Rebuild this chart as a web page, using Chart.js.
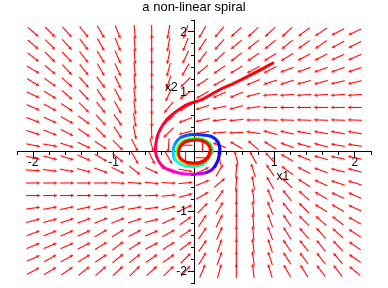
<!DOCTYPE html>
<html>
<head>
<meta charset="utf-8">
<script src="https://cdn.jsdelivr.net/npm/chart.js@4.4.1/dist/chart.umd.min.js"></script>
<style>
  html, body { margin: 0; padding: 0; background: #fff; }
  #wrap { width: 388px; height: 288px; }
</style>
</head>
<body>
<div id="wrap"><canvas id="chart" width="388" height="288"></canvas></div>
<script>
// direction field grid (20 x 20)
var gridX1 = [-2, -1.789, -1.579, -1.368, -1.158, -0.947, -0.737, -0.526, -0.316, -0.105,
              0.105, 0.316, 0.526, 0.737, 0.947, 1.158, 1.368, 1.579, 1.789, 2];
var gridX2 = [2, 1.789, 1.579, 1.368, 1.158, 0.947, 0.737, 0.526, 0.316, 0.105,
              -0.105, -0.316, -0.526, -0.737, -0.947, -1.158, -1.368, -1.579, -1.789, -2];

// arrow heading as seen on screen, degrees anticlockwise from +x1; one row per gridX2 value
var fieldAngle = [
  [-41, -45, -48, -52, -59, -68, -85, -90, -100, -110, -120, -130, -137, -137, -137, -137, -143, -146, -153, -155],
  [-41, -45, -48, -53, -61, -68, -85, -90, -100, -112, -123, -132, -140, -140, -141, -141, -145, -145, -152, -152],
  [-37, -45, -47, -52, -59, -66, -85, -90, -102, -115, -127, -137, -142, -146, -148, -148, -152, -152, -156, -156],
  [-30, -40, -47, -52, -60, -66, -84, -90, -105, -120, -140, -145, -148, -152, -153, -159, -160, -160, -160, -161],
  [-31, -36, -42, -49, -54, -66, -84, -90, -110, -135, -146, -150, -152, -157, -162, -162, -165, -165, -167, -167],
  [-25, -32, -41, -47, -56, -63, -83, -90, -115, -145, -150, -157, -157, -165, -176, -176, -176, -176, -176, -176],
  [-23, -29, -34, -45, -52, -61, -82, -90, -130, -150, -162, -168, -165, -172, 180, 180, 180, 180, 180, 180],
  [-21, -25, -29, -36, -48, -55, -80, -90, -140, -160, -167, -173, -175, 180, 178, 178, 178, 178, 178, 178],
  [-18, -22, -27, -35, -45, -57, -78, -88, -135, -165, -170, -175, -178, 172, 165, 167, 170, 170, 170, 170],
  [-12, -10, -18, -25, -34, -45, -63, -75, -95, 180, 90, 160, 150, 140, 148, 160, 165, 165, 170, 171],
  [-12, -15, -18, -24, -30, -40, -60, -65, -60, -90, 0, 100, 105, 118, 132, 150, 158, 165, 168, 168],
  [-4, -7, -10, -15, -20, -26, -38, -25, -20, -10, 25, 60, 85, 108, 124, 143, 153, 160, 166, 165],
  [0, 0, 0, 0, 0, -3, -5, -6, -3, 5, 22, 40, 85, 100, 120, 135, 147, 155, 162, 163],
  [0, 0, 0, 0, 0, 0, 1, 2, 6, 15, 30, 55, 90, 97, 112, 128, 138, 150, 156, 156],
  [8, 10, 12, 12, 12, 13, 10, 7, 14, 25, 45, 60, 90, 95, 112, 129, 135, 148, 150, 156],
  [15, 15, 18, 20, 22, 22, 18, 14, 24, 35, 56, 63, 90, 95, 110, 124, 135, 139, 142, 151],
  [20, 22, 24, 25, 30, 32, 28, 23, 29, 34, 56, 66, 90, 95, 110, 122, 130, 131, 138, 147],
  [23, 23, 24, 27, 32, 37, 33, 27, 32, 36, 56, 71, 90, 97, 108, 124, 128, 128, 133, 145],
  [24, 29, 29, 32, 34, 39, 38, 35, 36, 45, 59, 70, 90, 98, 108, 122, 126, 127, 130, 145],
  [29, 31, 34, 39, 41, 43, 45, 43, 45, 48, 67, 74, 90, 97, 107, 120, 122, 127, 127, 140]
];

var curveX1 = [0.98, 0.76, 0.51, 0.30, 0.10, -0.01, -0.11, -0.24, -0.34, -0.42,
               -0.46, -0.48, -0.46, -0.39, -0.26, -0.14, -0.01, 0.16, 0.26, 0.32,
               0.30, 0.22, 0.07, -0.05, -0.17, -0.24, -0.26, -0.24, -0.15, -0.02,
               0.10, 0.17, 0.22, 0.19, 0.10, -0.02, -0.13, -0.20, -0.21, -0.17,
               -0.08, 0.04, 0.14, 0.20, 0.19, 0.12, 0.00, -0.11, -0.18, -0.19,
               -0.14, -0.04, 0.08, 0.17, 0.20];
var curveX2 = [1.48, 1.32, 1.15, 1.02, 0.87, 0.82, 0.77, 0.65, 0.53, 0.37,
               0.23, 0.03, -0.10, -0.25, -0.33, -0.37, -0.38, -0.35, -0.25, -0.02,
               0.15, 0.25, 0.28, 0.28, 0.23, 0.12, 0.00, -0.13, -0.22, -0.25,
               -0.22, -0.13, 0.00, 0.13, 0.20, 0.21, 0.17, 0.07, -0.05, -0.15,
               -0.21, -0.21, -0.15, -0.03, 0.09, 0.17, 0.19, 0.16, 0.06, -0.06,
               -0.15, -0.19, -0.18, -0.10, 0.02];
var curveHue = [360, 358, 357, 356, 355, 354, 353, 351, 349, 347,
                345, 340, 335, 325, 315, 305, 295, 275, 255, 240,
                235, 232, 228, 222, 215, 205, 195, 185, 178, 170,
                160, 145, 130, 122, 118, 115, 110, 100, 85, 65,
                40, 20, 10, 5, 2, 0, 0, 0, 0, 0,
                0, 0, 0, 0, 0];

var minorTicks = [-2.2, -2, -1.8, -1.6, -1.4, -1.2, -1, -0.8, -0.6, -0.4, -0.2, 0,
                  0.2, 0.4, 0.6, 0.8, 1, 1.2, 1.4, 1.6, 1.8, 2, 2.2];
var majorTicks = [-2, -1, 1, 2];


var FONT = '"Liberation Sans", Arial, Helvetica, sans-serif';
Chart.defaults.font.family = FONT;
Chart.defaults.color = '#000';

// small red arrow pointing along +x, rotated per point by chart.js
function makeArrow() {
    var c = document.createElement('canvas');
    c.width = 16;
    c.height = 7;
    var g = c.getContext('2d');
    g.strokeStyle = '#ff0000';
    g.fillStyle = '#ff0000';
    g.lineWidth = 1.1;
    g.beginPath();
    g.moveTo(1, 3.5);
    g.lineTo(13.5, 3.5);
    g.stroke();
    g.beginPath();
    g.moveTo(15.5, 3.5);
    g.lineTo(12, 1.9);
    g.lineTo(12, 5.1);
    g.closePath();
    g.fill();
    return c;
}

var arrowPoints = [];
var arrowTurn = [];
for (var r = 0; r < gridX2.length; r++) {
    for (var c = 0; c < gridX1.length; c++) {
        arrowPoints.push({x: gridX1[c], y: gridX2[r]});
        arrowTurn.push(-fieldAngle[r][c]);
    }
}

var curvePoints = [];
for (var i = 0; i < curveX1.length; i++) {
    curvePoints.push({x: curveX1[i], y: curveX2[i]});
}

function tickList(list) {
    return function (scale) {
        scale.ticks = list.map(function (v) { return {value: v}; });
    };
}

function noHeight(scale) { scale.height = 0; }
function noWidth(scale) { scale.width = 0; }

// axis names and the x2 tick labels, placed from the scales
var axisText = {
    id: 'axisText',
    afterDraw: function (chart) {
        var ctx = chart.ctx;
        var sx = chart.scales.x;
        var sy = chart.scales.y;
        var x0 = sx.getPixelForValue(0);
        ctx.save();
        ctx.fillStyle = '#000';
        ctx.font = '12px ' + FONT;
        ctx.textBaseline = 'middle';
        ctx.textAlign = 'right';
        majorTicks.forEach(function (v) {
            ctx.fillText(String(v), x0 - 7, sy.getPixelForValue(v) + 0.5);
        });
        ctx.textAlign = 'left';
        ctx.fillText('x1', sx.getPixelForValue(1) + 2, sy.getPixelForValue(0) + 25);
        ctx.fillText('x2', x0 - 29, sy.getPixelForValue(1) - 4);
        ctx.restore();
    }
};

new Chart(document.getElementById('chart'), {
    type: 'scatter',
    data: {
        datasets: [
            {
                data: curvePoints,
                showLine: true,
                borderWidth: 3,
                borderColor: 'red',
                borderCapStyle: 'round',
                borderJoinStyle: 'round',
                tension: 0.35,
                pointRadius: 0,
                order: 1,
                segment: {
                    borderColor: function (ctx) {
                        var h = (curveHue[ctx.p0DataIndex] + curveHue[ctx.p1DataIndex]) / 2;
                        return 'hsl(' + h + ',100%,50%)';
                    }
                }
            },
            {
                data: arrowPoints,
                pointStyle: makeArrow(),
                pointRotation: arrowTurn,
                pointRadius: 3,
                order: 2
            }
        ]
    },
    options: {
        responsive: false,
        animation: false,
        devicePixelRatio: 1,
        events: [],
        layout: { padding: { left: 17, right: 17, top: 0, bottom: 4 } },
        plugins: {
            legend: { display: false },
            tooltip: { enabled: false },
            title: {
                display: true,
                text: 'a non-linear spiral',
                color: '#000',
                font: { size: 13, weight: 'normal', lineHeight: 1.2 },
                padding: { top: 0, bottom: 4.4 }
            }
        },
        scales: {
            x: {
                type: 'linear', min: -2.2, max: 2.2, position: { y: 0 }, z: 1,
                afterBuildTicks: tickList(minorTicks), afterFit: noHeight,
                grid: { drawOnChartArea: false, tickLength: 3, color: '#000' },
                border: { display: true, color: '#000', width: 1 },
                ticks: { display: false }
            },
            xMaj: {
                type: 'linear', axis: 'x', min: -2.2, max: 2.2, position: { y: 0 }, z: 1,
                afterBuildTicks: tickList(majorTicks), afterFit: noHeight,
                grid: { drawOnChartArea: false, tickLength: 6, color: '#000' },
                border: { display: false },
                ticks: { color: '#000', padding: -1, autoSkip: false, maxRotation: 0,
                         font: { size: 12, lineHeight: 1 } }
            },
            y: {
                type: 'linear', min: -2.2, max: 2.2, position: { x: 0 }, z: 1,
                afterBuildTicks: tickList(minorTicks), afterFit: noWidth,
                grid: { drawOnChartArea: false, tickLength: 3, color: '#000' },
                border: { display: true, color: '#000', width: 1 },
                ticks: { display: false }
            },
            yMaj: {
                type: 'linear', axis: 'y', min: -2.2, max: 2.2, position: { x: 0 }, z: 1,
                afterBuildTicks: tickList(majorTicks), afterFit: noWidth,
                grid: { drawOnChartArea: false, tickLength: 6, color: '#000' },
                border: { display: false },
                ticks: { display: false }
            }
        }
    },
    plugins: [axisText]
});
</script>
</body>
</html>
